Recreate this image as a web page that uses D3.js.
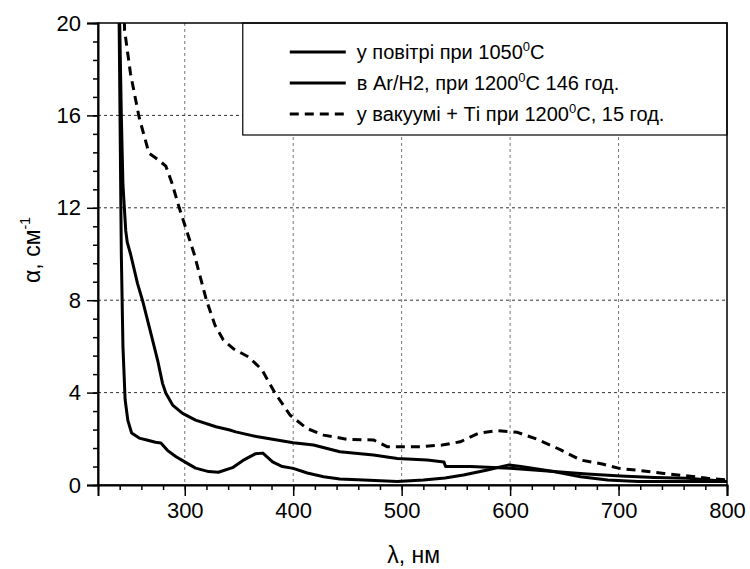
<!DOCTYPE html>
<html>
<head>
<meta charset="utf-8">
<script src="https://cdn.jsdelivr.net/npm/d3@7"></script>
<style>
  body { margin: 0; background: #fff; }
  text { font-family: "Liberation Sans", Arial, sans-serif; fill: #000; }
</style>
</head>
<body>
<div id="chart"></div>
<script>
// data: wavelength (nm) and absorption (cm^-1)
const airWl = [238, 239.5, 240.5, 241.5, 243, 245, 247.5, 251, 258, 265, 273, 278, 284, 292, 300, 310, 322, 331, 344, 355, 365, 372, 381, 390, 400, 413, 428, 443, 465, 496, 520, 540, 557, 579, 599, 610, 640, 665, 690, 718, 760, 800];
const airA  = [22, 20, 15, 10, 6, 3.7, 2.8, 2.25, 2.03, 1.95, 1.85, 1.82, 1.5, 1.22, 1.0, 0.73, 0.58, 0.55, 0.75, 1.1, 1.35, 1.38, 1.0, 0.8, 0.72, 0.52, 0.36, 0.26, 0.22, 0.15, 0.22, 0.3, 0.43, 0.65, 0.87, 0.8, 0.58, 0.36, 0.22, 0.15, 0.15, 0.15];

const arWl = [238.5, 240, 241.5, 243, 245.6, 247, 250, 256.4, 261, 268.7, 275, 279.5, 282.6, 288.8, 298, 310, 328.8, 341.5, 347, 366, 400, 418.7, 443, 474, 496, 523.5, 539, 540.5, 563.5, 600, 640.5, 671, 702, 733, 764, 800];
const arA  = [22, 20, 16, 13, 11, 10.5, 10, 8.73, 8.0, 6.57, 5.4, 4.4, 3.97, 3.46, 3.1, 2.81, 2.52, 2.38, 2.3, 2.1, 1.83, 1.73, 1.44, 1.3, 1.15, 1.08, 1.0, 0.8, 0.8, 0.72, 0.58, 0.48, 0.39, 0.33, 0.29, 0.15];

const vacWl = [243.5, 244.5, 250, 258, 267, 275, 282.6, 288, 294.9, 308.7, 320, 328, 335.6, 344.8, 358.6, 371, 383, 397, 412.6, 428, 449.6, 474, 486.5, 517, 537.4, 554, 571, 588, 606.7, 625, 646.7, 665, 685, 700.7, 720.6, 742, 764, 782, 800];
const vacA  = [22, 19.7, 17.8, 15.9, 14.36, 14.1, 13.8, 13.1, 12.0, 10.0, 8.0, 6.9, 6.28, 5.9, 5.55, 5.0, 4.0, 3.03, 2.45, 2.16, 1.98, 1.95, 1.66, 1.66, 1.73, 1.87, 2.24, 2.35, 2.28, 1.98, 1.52, 1.08, 0.91, 0.72, 0.62, 0.5, 0.39, 0.29, 0.22];

const xTicks = [300, 400, 500, 600, 700, 800];
const yTicks = [0, 4, 8, 12, 16, 20];

const legendLabels = [
    ["у повітрі при 1050", "C"],
    ["в Ar/H2, при 1200", "C 146 год."],
    ["у вакуумі + Ті при 1200", "C, 15 год."]
];

// set the dimensions and margins of the graph
const margin = { top: 23, right: 23, bottom: 84, left: 98 },
    width = 750 - margin.left - margin.right,
    height = 569 - margin.top - margin.bottom;

const svgRoot = d3.select("#chart")
    .append("svg")
    .attr("width", 750)
    .attr("height", 569);

const svg = svgRoot.append("g")
    .attr("transform", `translate(${margin.left},${margin.top})`);

svgRoot.append("defs").append("clipPath")
    .attr("id", "plot-clip")
    .append("rect")
    .attr("width", width)
    .attr("height", height);

const x = d3.scaleLinear().domain([220, 800]).range([0, width]);
const y = d3.scaleLinear().domain([0, 20]).range([height, 0]);

// gridlines
svg.append("g")
    .selectAll("line")
    .data(xTicks.filter(d => d < 800))
    .enter().append("line")
    .attr("x1", d => x(d)).attr("x2", d => x(d))
    .attr("y1", 0).attr("y2", height)
    .attr("stroke", "#777")
    .attr("stroke-width", 1)
    .attr("stroke-dasharray", "3,3");

svg.append("g")
    .selectAll("line")
    .data(yTicks.filter(d => d > 0 && d < 20))
    .enter().append("line")
    .attr("x1", 0).attr("x2", width)
    .attr("y1", d => y(d)).attr("y2", d => y(d))
    .attr("stroke", "#333")
    .attr("stroke-width", 1)
    .attr("stroke-dasharray", "3,3");

// curves
const line = d3.line()
    .x(d => x(d[0]))
    .y(d => y(d[1]));

const series = [
    { wl: airWl, a: airA, dash: null },
    { wl: arWl, a: arA, dash: null },
    { wl: vacWl, a: vacA, dash: "9,6" }
];

const curves = svg.append("g").attr("clip-path", "url(#plot-clip)");
series.forEach(s => {
    curves.append("path")
        .datum(s.wl.map((w, i) => [w, s.a[i]]))
        .attr("fill", "none")
        .attr("stroke", "#000")
        .attr("stroke-width", 3)
        .attr("stroke-linejoin", "round")
        .attr("stroke-dasharray", s.dash)
        .attr("d", line);
});

// legend
const lg = svg.append("g").attr("transform", `translate(${x(353.5)},0)`);
lg.append("rect")
    .attr("width", width - x(353.5))
    .attr("height", 112)
    .attr("fill", "#fff")
    .attr("stroke", "#000")
    .attr("stroke-width", 1.2);

legendLabels.forEach((lab, i) => {
    const ly = 29 + i * 31;
    lg.append("line")
        .attr("x1", 47).attr("x2", 103)
        .attr("y1", ly).attr("y2", ly)
        .attr("stroke", "#000")
        .attr("stroke-width", 3)
        .attr("stroke-dasharray", series[i].dash);
    const t = lg.append("text")
        .attr("x", 114)
        .attr("y", ly + 7)
        .attr("font-size", "20px");
    t.append("tspan").text(lab[0]);
    t.append("tspan").attr("font-size", "13px").attr("dy", -8).text("0");
    t.append("tspan").attr("dy", 8).text(lab[1]);
});

// frame
svg.append("rect")
    .attr("width", width)
    .attr("height", height)
    .attr("fill", "none")
    .attr("stroke", "#000")
    .attr("stroke-width", 1.5);

// Y axis with minor ticks
svg.append("g")
    .call(d3.axisLeft(y).tickValues(d3.range(0, 20.01, 0.8)).tickSize(5).tickFormat(""))
    .call(g => g.select(".domain").remove())
    .call(g => g.selectAll("line").attr("stroke-width", 1.5));
svg.append("g")
    .call(d3.axisLeft(y).tickValues(yTicks).tickSize(11).tickPadding(6))
    .call(g => g.select(".domain").attr("stroke-width", 2))
    .call(g => g.selectAll("line").attr("stroke-width", 1.5))
    .call(g => g.selectAll("text").attr("font-size", "22px").attr("font-family", "Liberation Sans, Arial, sans-serif"));

// X axis with minor ticks
svg.append("g")
    .attr("transform", `translate(0,${height})`)
    .call(d3.axisBottom(x).tickValues(d3.range(220, 801, 20)).tickSize(5).tickFormat(""))
    .call(g => g.select(".domain").remove())
    .call(g => g.selectAll("line").attr("stroke-width", 1.5));
svg.append("g")
    .attr("transform", `translate(0,${height})`)
    .call(d3.axisBottom(x).tickValues(xTicks).tickSize(11).tickPadding(6))
    .call(g => g.select(".domain").attr("stroke-width", 2))
    .call(g => g.selectAll("line").attr("stroke-width", 1.5))
    .call(g => g.selectAll("text").attr("font-size", "22px").attr("font-family", "Liberation Sans, Arial, sans-serif"));

// axis titles
svgRoot.append("text")
    .attr("x", margin.left + x(511))
    .attr("y", 563)
    .attr("text-anchor", "middle")
    .attr("font-size", "23px")
    .text("λ, нм");

const yl = svgRoot.append("text")
    .attr("transform", "translate(40,250) rotate(-90)")
    .attr("text-anchor", "middle")
    .attr("font-size", "23px");
yl.append("tspan").text("α, см");
yl.append("tspan").attr("font-size", "14px").attr("dy", -10).text("-1");
</script>
</body>
</html>
